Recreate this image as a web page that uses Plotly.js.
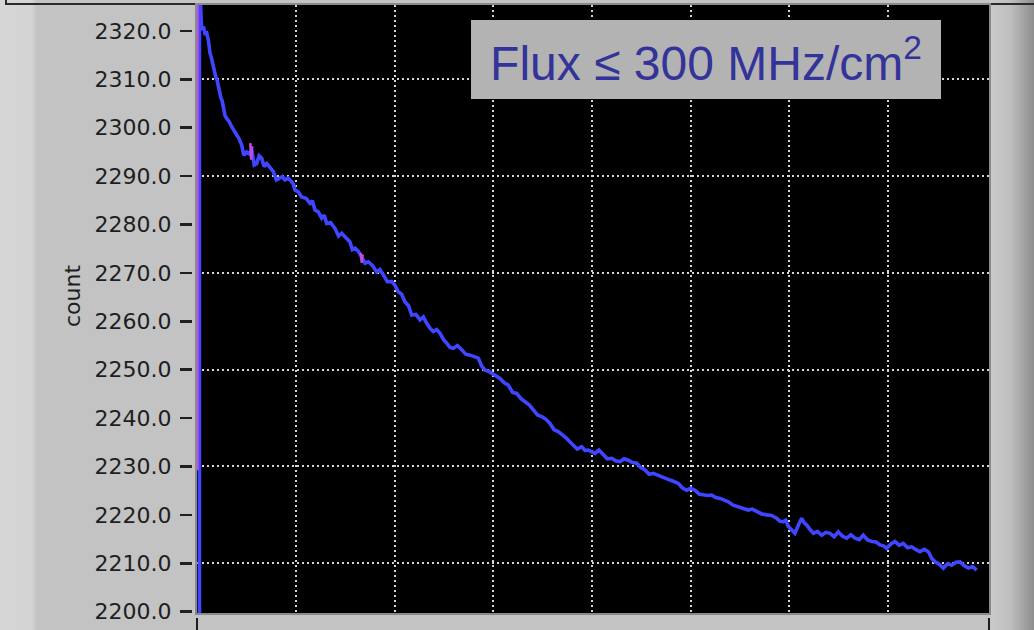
<!DOCTYPE html>
<html>
<head>
<meta charset="utf-8">
<script src="https://cdn.plot.ly/plotly-3.0.1.min.js"></script>
<style>
  html, body { margin: 0; padding: 0; background: #c3c3c3; }
  #panel {
    position: relative; width: 1034px; height: 630px; overflow: hidden;
    background: linear-gradient(to right,
      #d6d6d6 0px, #d4d4d4 32px, #c3c3c3 37px, #c3c3c3 989px,
      #c9c9c9 991px, #bfbfbf 1010px, #8e8e8e 1034px);
  }
  #frameTop { position: absolute; left: 6px; top: 3px; width: 1028px; height: 2px; background: #2a2a2a; }
  #frameLeft { position: absolute; left: 5px; top: 0px; width: 2px; height: 5px; background: #2a2a2a; }
  #chart { position: absolute; left: 0; top: 0; width: 1034px; height: 630px; }
</style>
</head>
<body>
<div id="panel">
  <div id="frameTop"></div>
  <div id="frameLeft"></div>
  <div id="chart"></div>
</div>
<script>
// Detector count over elapsed time (main channel)
const timeMain = [
  0.020, 0.020, 0.043, 0.060, 0.076, 0.093, 0.110, 0.118, 0.127, 0.143,
  0.160, 0.172, 0.185, 0.198, 0.211, 0.225, 0.238, 0.250, 0.262, 0.279,
  0.296, 0.320, 0.347, 0.372, 0.397, 0.420, 0.448, 0.470, 0.499, 0.525,
  0.550, 0.575, 0.600, 0.625, 0.651, 0.675, 0.702, 0.735, 0.769, 0.800,
  0.836, 0.860, 0.887, 0.920, 0.955, 0.972, 0.989, 1.020, 1.056, 1.100,
  1.141, 1.165, 1.191, 1.225, 1.259, 1.285, 1.310, 1.350, 1.394, 1.430,
  1.462, 1.505, 1.546, 1.570, 1.597, 1.630, 1.665, 1.700, 1.732, 1.775,
  1.817, 1.850, 1.884, 1.925, 1.969, 2.000, 2.036, 2.070, 2.104, 2.140,
  2.172, 2.215, 2.256, 2.290, 2.324, 2.360, 2.391, 2.425, 2.459, 2.495,
  2.527, 2.560, 2.594, 2.635, 2.679, 2.720, 2.763, 2.805, 2.847, 2.880,
  2.915, 2.950, 2.983, 3.025, 3.067, 3.110, 3.151, 3.195, 3.236, 3.280,
  3.321, 3.365, 3.405, 3.450, 3.490, 3.530, 3.574, 3.615, 3.658, 3.700,
  3.743, 3.775, 3.810, 3.850, 3.895, 3.930, 3.962, 4.000, 4.030, 4.070,
  4.114, 4.155, 4.200, 4.240, 4.284, 4.325, 4.368, 4.410, 4.453, 4.495,
  4.537, 4.580, 4.621, 4.665, 4.706, 4.750, 4.791, 4.830, 4.875, 4.915,
  4.960, 5.000, 5.044, 5.085, 5.128, 5.170, 5.213, 5.255, 5.298, 5.340,
  5.382, 5.430, 5.483, 5.535, 5.585, 5.625, 5.670, 5.720, 5.771, 5.820,
  5.872, 5.905, 5.939, 5.965, 5.990, 6.025, 6.058, 6.095, 6.126, 6.150,
  6.177, 6.210, 6.244, 6.285, 6.329, 6.370, 6.413, 6.455, 6.497, 6.540,
  6.582, 6.625, 6.667, 6.710, 6.750, 6.795, 6.836, 6.880, 6.920, 6.955,
  6.988, 7.030, 7.072, 7.115, 7.156, 7.200, 7.241, 7.285, 7.325, 7.370,
  7.410, 7.445, 7.478, 7.520, 7.562, 7.605, 7.647, 7.690, 7.731, 7.775,
  7.816, 7.860, 7.900
];
const countMain = [
  2190.0, 2330.0, 2320.2, 2320.9, 2319.5, 2319.6, 2318.1, 2316.2, 2315.4, 2314.3,
  2312.6, 2311.9, 2310.5, 2309.9, 2308.5, 2307.0, 2306.1, 2305.6, 2304.3, 2302.5,
  2301.9, 2301.3, 2300.2, 2299.5, 2298.5, 2297.8, 2296.4, 2294.3, 2295.0, 2294.6,
  2295.4, 2292.3, 2292.6, 2294.2, 2293.7, 2292.0, 2292.6, 2291.8, 2290.9, 2289.2,
  2289.5, 2289.9, 2289.2, 2289.6, 2288.8, 2288.3, 2287.1, 2286.8, 2285.7, 2285.4,
  2284.4, 2284.9, 2283.0, 2282.6, 2281.3, 2281.9, 2280.2, 2280.4, 2279.2, 2277.6,
  2278.2, 2277.4, 2276.4, 2274.8, 2275.1, 2274.5, 2273.3, 2272.0, 2272.3, 2271.5,
  2270.2, 2270.7, 2269.6, 2268.2, 2268.2, 2267.5, 2266.1, 2265.6, 2264.0, 2263.2,
  2261.3, 2261.4, 2260.3, 2260.9, 2259.6, 2258.5, 2257.9, 2258.3, 2257.5, 2256.2,
  2255.5, 2254.6, 2254.4, 2255.0, 2254.1, 2253.2, 2253.0, 2252.7, 2252.4, 2250.8,
  2249.9, 2249.7, 2249.3, 2248.9, 2248.2, 2247.3, 2246.8, 2245.3, 2245.1, 2244.0,
  2243.4, 2242.7, 2241.7, 2240.6, 2240.3, 2239.8, 2238.9, 2237.6, 2237.2, 2236.6,
  2235.8, 2235.1, 2234.4, 2233.6, 2234.1, 2233.3, 2233.4, 2233.0, 2232.7, 2233.4,
  2232.4, 2231.6, 2231.7, 2231.2, 2231.0, 2231.6, 2231.3, 2230.8, 2230.7, 2229.8,
  2229.3, 2228.4, 2228.6, 2228.2, 2227.9, 2227.5, 2227.2, 2226.9, 2226.5, 2225.6,
  2225.1, 2225.5, 2225.1, 2224.3, 2224.1, 2224.0, 2224.1, 2223.6, 2223.4, 2223.0,
  2222.7, 2222.0, 2221.7, 2221.4, 2221.0, 2221.2, 2220.7, 2220.2, 2220.0, 2219.9,
  2219.3, 2218.7, 2218.6, 2218.9, 2217.6, 2216.9, 2216.2, 2218.0, 2219.3, 2218.4,
  2217.9, 2217.0, 2216.2, 2216.6, 2215.8, 2216.4, 2216.2, 2215.5, 2216.5, 2215.6,
  2215.2, 2215.9, 2215.2, 2214.9, 2215.8, 2214.8, 2214.5, 2214.4, 2213.8, 2213.6,
  2213.1, 2214.0, 2214.5, 2213.7, 2214.1, 2213.2, 2213.4, 2212.8, 2212.4, 2212.9,
  2212.4, 2211.0, 2210.3, 2209.8, 2209.0, 2209.9, 2209.6, 2210.2, 2210.3, 2209.5,
  2209.0, 2209.3, 2208.6
];

// Second channel: only the samples where it departs from the main trace
const timeAux  = [0.000, 0.000, null, 0.535, 0.545, 0.555, null, 1.655, 1.665, 1.675];
const countAux = [2229.2, 2330.0, null, 2296.8, 2293.4, 2296.2, null, 2274.1, 2272.1, 2273.8];

// Axis settings
const yTicks = [2200, 2210, 2220, 2230, 2240, 2250, 2260, 2270, 2280, 2290, 2300, 2310, 2320];
const yGrid = [2210, 2230, 2250, 2270, 2290, 2310];
const xGrid = [1, 2, 3, 4, 5, 6, 7];
const xEndTicks = [0, 8.02];
const xRange = [-0.005, 8.025];
const yRange = [2199.73, 2325.35];
const yTitle = 'count';
const boxLabel = 'Flux ≤ 300 MHz/cm<sup>2</sup>';

const traces = [
  { x: timeMain, y: countMain, type: 'scatter', mode: 'lines',
    xaxis: 'x', yaxis: 'y',
    line: { color: '#4045ff', width: 3.6 }, hoverinfo: 'skip', showlegend: false },
  { x: timeAux, y: countAux, type: 'scatter', mode: 'lines', connectgaps: false,
    xaxis: 'x2', yaxis: 'y2',
    line: { color: '#c04ce8', width: 2.5 }, hoverinfo: 'skip', showlegend: false }
];

const dotGrid = { color: '#d6d6d6', dash: '2px,3px', width: 2 };
const darkText = '#1e1e1e';

const layout = {
  width: 1034, height: 630,
  margin: { l: 192, r: 45, t: 5, b: 13, pad: 0 },
  paper_bgcolor: 'rgba(0,0,0,0)',
  plot_bgcolor: '#000000',
  showlegend: false,
  // grid + frame axes of the plot area
  xaxis: {
    domain: [5 / 797, 1], range: xRange, anchor: 'y',
    tickmode: 'array', tickvals: xGrid, ticks: '', showticklabels: false,
    showgrid: true, gridcolor: dotGrid.color, griddash: dotGrid.dash, gridwidth: dotGrid.width,
    zeroline: false, showline: true, linecolor: '#8a8a8a', linewidth: 2, mirror: true
  },
  yaxis: {
    domain: [4 / 612, 1], range: yRange, anchor: 'x',
    tickmode: 'array', tickvals: yGrid, ticks: '', showticklabels: false,
    showgrid: true, gridcolor: dotGrid.color, griddash: dotGrid.dash, gridwidth: dotGrid.width,
    zeroline: false, showline: true, linecolor: '#8a8a8a', linewidth: 2, mirror: true
  },
  // scale axes, set slightly apart from the plot area
  xaxis2: {
    overlaying: 'x', anchor: 'free', position: 0, range: xRange,
    tickmode: 'array', tickvals: xEndTicks, ticks: 'outside', ticklen: 13, tickwidth: 2,
    tickcolor: darkText, showticklabels: false, showgrid: false, zeroline: false, showline: false
  },
  yaxis2: {
    overlaying: 'y', anchor: 'free', position: 0, range: yRange,
    tickmode: 'array', tickvals: yTicks, tickformat: '.1f',
    ticks: 'outside', ticklen: 12, tickwidth: 2.5, tickcolor: '#202020', ticklabelstandoff: 4,
    tickfont: { family: 'DejaVu Sans', size: 22, color: darkText },
    showgrid: false, zeroline: false, showline: false
  },
  annotations: [
    {
      xref: 'paper', yref: 'paper', x: 0.645, y: 0.911, xanchor: 'center', yanchor: 'middle',
      text: boxLabel, showarrow: false, bgcolor: '#b3b3b3', borderpad: 0, borderwidth: 0,
      width: 470, height: 79, align: 'center', valign: 'middle',
      font: { family: 'Liberation Sans, Arial, sans-serif', size: 48, color: '#333399' }
    },
    {
      // vertical axis caption
      xref: 'paper', yref: 'paper', x: -0.1506, y: 0.5245, xanchor: 'center', yanchor: 'middle',
      text: yTitle, textangle: -90, showarrow: false,
      font: { family: 'DejaVu Sans', size: 22, color: darkText }
    }
  ]
};

Plotly.newPlot('chart', traces, layout, { displayModeBar: false, staticPlot: true });
</script>
</body>
</html>
